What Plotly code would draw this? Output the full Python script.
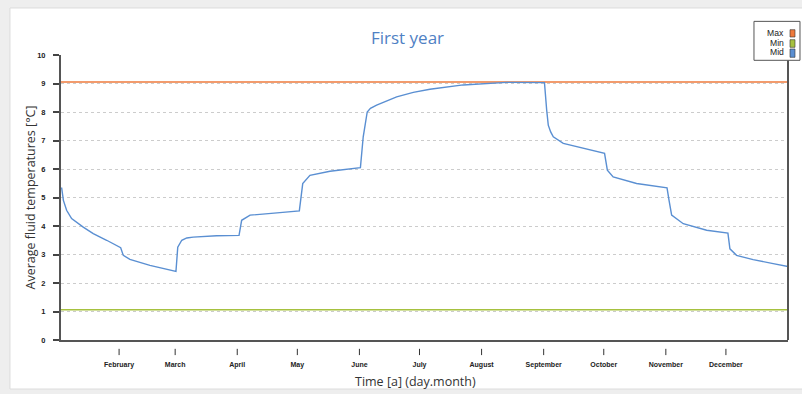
import plotly.graph_objects as go

# ---- data ----
days = [2.3, 3.2, 4.8, 7.3, 13.1, 18.1, 24.8, 30.6, 31.8, 33.1, 36.4, 46.4, 54.8, 59.4,
        60.3, 62.3, 64.8, 68.0, 79.7, 90.9,
        92.2, 94.7, 96.4, 111.3, 121.0,
        122.7, 126.3, 136.3, 151.5,
        152.9, 154.9, 156.5, 159.6, 169.6, 177.9, 186.2, 202.8, 224.5, 241.1, 243.4,
        244.5, 245.3, 246.5, 247.8, 252.8, 264.4, 273.4,
        274.8, 277.7, 289.4, 304.6,
        305.6, 306.9, 312.7, 324.4, 335.0,
        336.0, 339.3, 347.6, 357.6, 365.0]
mid_temp = [5.35, 4.90, 4.55, 4.26, 3.96, 3.73, 3.50, 3.29, 3.24, 2.97, 2.83, 2.62, 2.47, 2.41,
            3.26, 3.50, 3.58, 3.61, 3.66, 3.67,
            4.20, 4.32, 4.38, 4.47, 4.53,
            5.49, 5.78, 5.92, 6.05,
            7.13, 8.00, 8.13, 8.24, 8.53, 8.69, 8.80, 8.95, 9.04, 9.04, 9.03,
            8.07, 7.54, 7.30, 7.13, 6.90, 6.69, 6.55,
            5.96, 5.72, 5.49, 5.34,
            4.90, 4.38, 4.08, 3.85, 3.75,
            3.20, 2.97, 2.82, 2.68, 2.58]
max_temp = 9.05
min_temp = 1.06
month_days = [31, 59, 90, 120, 151, 181, 212, 243, 273, 304, 334]
month_labels = ["February", "March", "April", "May", "June", "July",
                "August", "September", "October", "November", "December"]
y_ticks = list(range(0, 11))
x_range = [2, 365]

C_MAX = "#ee7a3c"
C_MIN = "#a6c13f"
C_MID = "#5a8fd2"

fig = go.Figure()
fig.add_trace(go.Scatter(x=x_range, y=[max_temp, max_temp], mode="lines",
                         line=dict(color=C_MAX, width=1.4), name="Max"))
fig.add_trace(go.Scatter(x=x_range, y=[min_temp, min_temp], mode="lines",
                         line=dict(color=C_MIN, width=1.4), name="Min"))
fig.add_trace(go.Scatter(x=days, y=mid_temp, mode="lines",
                         line=dict(color=C_MID, width=1.4), name="Mid"))

shapes = []
# white card background
shapes.append(dict(type="rect", xref="paper", yref="paper", x0=-0.0702, x1=1.03,
                   y0=-0.172, y1=1.165, fillcolor="white",
                   line=dict(color="#dcdcdc", width=1), layer="below"))
# month tick marks (detached from axis)
for d in month_days:
    shapes.append(dict(type="line", xref="x", yref="paper", x0=d, x1=d,
                       y0=-0.031, y1=-0.053, line=dict(color="#333", width=1)))
# right frame line (below legend box)
shapes.append(dict(type="line", xref="paper", yref="paper", x0=1, x1=1,
                   y0=0, y1=0.9814, line=dict(color="#555", width=2)))
# manual legend box
shapes.append(dict(type="rect", xref="paper", yref="paper", x0=0.9532, x1=1.0165,
                   y0=0.9814, y1=1.118, fillcolor="white",
                   line=dict(color="#555", width=1)))
legend_items = [("Max", C_MAX, 29.7, 37.0, 33), ("Min", C_MIN, 39.7, 47.3, 43),
                ("Mid", C_MID, 49.0, 57.3, 52.3)]
annotations = []
for name, col, ytop, ybot, ytxt in legend_items:
    shapes.append(dict(type="rect", xref="paper", yref="paper",
                       x0=(790 - 61) / 727, x1=(795 - 61) / 727,
                       y0=(340 - ybot) / 285, y1=(340 - ytop) / 285,
                       fillcolor=col, line=dict(color="#333", width=0.6)))
    annotations.append(dict(text=name, xref="paper", yref="paper",
                            x=(786 - 61) / 727, y=(340 - ytxt) / 285,
                            xanchor="right", yanchor="middle", showarrow=False,
                            font=dict(family="Liberation Sans Narrow, Arial Narrow, Liberation Sans", size=8.6, color="#222")))

annotations.append(dict(text="First year", xref="paper", yref="paper",
                        x=(407 - 61) / 727, y=(340 - 37) / 285, showarrow=False,
                        xanchor="center", yanchor="middle",
                        font=dict(family="Open Sans", size=17, color="#4f81c4")))
annotations.append(dict(text="Average fluid temperatures [°C]", xref="paper", yref="paper",
                        x=(30 - 61) / 727, y=0.5, showarrow=False, textangle=-90,
                        xanchor="center", yanchor="middle",
                        font=dict(family="Open Sans", size=12.5, color="#333")))
annotations.append(dict(text="Time [a] (day.month)", xref="paper", yref="paper",
                        x=(415 - 61) / 727, y=(340 - 381) / 285, showarrow=False,
                        xanchor="center", yanchor="middle",
                        font=dict(family="Open Sans", size=12.5, color="#333")))

fig.update_layout(
    width=802, height=394,
    margin=dict(l=61, r=14, t=55, b=54),
    paper_bgcolor="#eeeeee", plot_bgcolor="rgba(0,0,0,0)",
    showlegend=False,
    shapes=shapes, annotations=annotations,
    xaxis=dict(range=x_range, tickvals=month_days, ticktext=month_labels,
               ticks="", showgrid=False, zeroline=False,
               showline=True, linecolor="#555", linewidth=2, mirror=False,
               ticklabelstandoff=17,
               tickfont=dict(family="Liberation Sans Narrow, Arial Narrow, Liberation Sans", size=7, color="#222", weight="bold")),
    yaxis=dict(range=[0, 10], tickvals=y_ticks, ticks="outside", ticklen=6,
               tickcolor="#444", tickwidth=1.5,
               showgrid=True, gridcolor="#cccccc", griddash="dot", gridwidth=1,
               zeroline=False, showline=True, linecolor="#555", linewidth=2, mirror=False,
               ticklabelstandoff=6,
               tickfont=dict(family="Liberation Sans", size=7.5, color="#222", weight="bold")),
)

fig.write_html("out.html", config={"displayModeBar": False},
               post_script="document.body.style.margin='0px';document.body.style.overflow='hidden';")
